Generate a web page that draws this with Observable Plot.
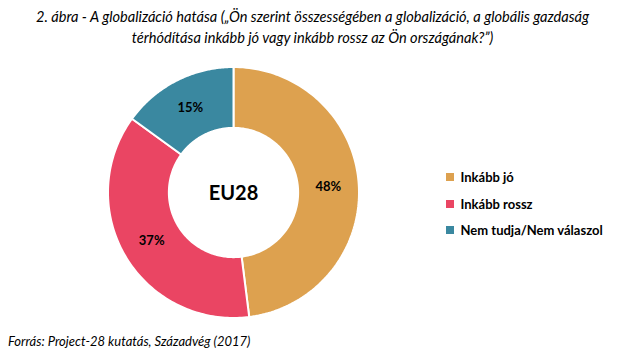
<!DOCTYPE html>
<html><head><meta charset="utf-8">
<script src="https://cdn.jsdelivr.net/npm/d3@7"></script>
<script src="https://cdn.jsdelivr.net/npm/@observablehq/plot@0.6"></script>
<style>
html,body{margin:0;padding:0;background:#fff;}
#wrap{position:relative;width:625px;height:359px;overflow:hidden;font-family:Lato,"Open Sans",sans-serif;color:#000;}
#title{position:absolute;left:0;top:6px;width:625px;text-align:center;font-style:italic;font-size:14.6px;line-height:21px;}
#foot{position:absolute;left:8px;top:333px;font-style:italic;font-size:13px;}
#chart{position:absolute;left:0;top:48px;}
#legend{position:absolute;left:446px;top:169px;}
.lg-swatch{font-family:Lato,sans-serif;font-weight:bold;font-size:13px;margin-bottom:9.5px !important;}
</style></head>
<body><div id="wrap">
<div id="title">2. ábra - A globalizáció hatása („Ön szerint összességében a globalizáció, a globális gazdaság<br>térhódítása inkább jó vagy inkább rossz az Ön országának?”)</div>
<div id="chart"></div>
<div id="legend"></div>
<div id="foot">Forrás: Project-28 kutatás, Századvég (2017)</div>
</div>
<script>
const categories = ["Inkább jó", "Inkább rossz", "Nem tudja/Nem válaszol"];
const values = [48, 37, 15];
const colors = ["#DDA14F", "#EA4563", "#3A88A0"];
const centerLabel = "EU28";

const inner = 0.515;
const pie = d3.pie().sort(null).value(d => d.value);
const arcs = pie(categories.map((c, i) => ({category: c, value: values[i]})));

// build polygon vertices of each donut slice from the pie angles
const poly = [];
arcs.forEach(a => {
  const n = 120;
  const pts = [];
  for (let k = 0; k <= n; k++) {
    const t = a.startAngle + (a.endAngle - a.startAngle) * k / n;
    pts.push([Math.sin(t), Math.cos(t)]);
  }
  for (let k = n; k >= 0; k--) {
    const t = a.startAngle + (a.endAngle - a.startAngle) * k / n;
    pts.push([inner * Math.sin(t), inner * Math.cos(t)]);
  }
  pts.push(pts[0]);
  pts.forEach(([x, y]) => poly.push({category: a.data.category, x, y}));
});
const labels = arcs.map(a => {
  const m = (a.startAngle + a.endAngle) / 2, r = (1 + inner) / 2;
  return {x: r * Math.sin(m), y: r * Math.cos(m), text: a.data.value + "%"};
});

const cx = 233, cy = 144, R = 125.5;
const chart = Plot.plot({
  width: 625, height: 280,
  margin: 0,
  x: {domain: [-1, 1], range: [cx - R, cx + R], axis: null},
  y: {domain: [-1, 1], range: [cy + R, cy - R], axis: null},
  color: {domain: categories, range: colors},
  style: {fontFamily: "Lato, sans-serif", background: "white"},
  marks: [
    Plot.line(poly, {x: "x", y: "y", z: "category", fill: "category", stroke: "white", strokeWidth: 2, curve: "linear"}),
    Plot.text(labels, {x: "x", y: "y", text: "text", fontSize: 13, fontWeight: "bold", fill: "black"}),
    Plot.text([centerLabel], {x: () => 0, y: () => 0, text: d => d, fontSize: 20, fontWeight: "bold", fill: "black", dy: 1})
  ]
});
document.getElementById("chart").appendChild(chart);

const leg = Plot.legend({
  color: {domain: categories, range: colors},
  columns: 1, swatchSize: 8, className: "lg"
});
document.getElementById("legend").appendChild(leg);
</script>
</body></html>
